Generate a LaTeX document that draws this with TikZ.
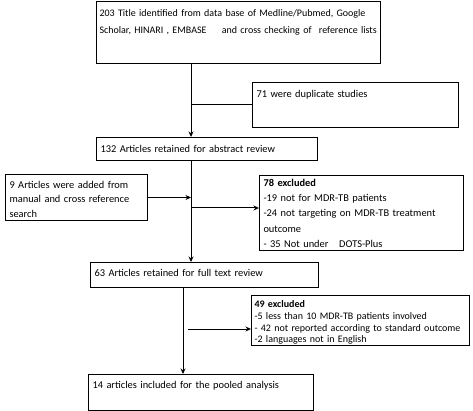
\documentclass[tikz,border=0pt]{standalone}
\usepackage{fontspec}
\setmainfont{Carlito}
\usetikzlibrary{arrows.meta}
\tikzset{
  box/.style={draw,line width=1pt,anchor=north west,inner xsep=4pt,inner ysep=0pt,align=left},
  fs/.style={font=\fontsize{10.4}{#1}\selectfont},
  fsn/.style={font=\fontsize{10}{#1}\selectfont},
  flow/.style={line width=1pt}
}
\begin{document}
\begin{tikzpicture}[>={Stealth[length=5.5pt,width=5pt]},x=1pt,y=-1pt]
	\useasboundingbox (0,0) rectangle (473,411);
	% boxes
	\node[box,fsn=17,inner xsep=3pt,text width=278pt,text height=15pt,text depth=47pt] (search) at (96,1)
		{203 Title identified from data base of Medline/Pubmed, Google\\Scholar, HINARI , EMBASE\hspace{1.2em} and cross checking of\hspace{0.4em} reference lists};
	\node[box,fs=14,text width=198pt,text height=15pt,text depth=30pt] (dup) at (252,82) {71 were duplicate studies};
	\node[box,fs=14,text width=213pt,text height=15pt,text depth=8pt] (abstract) at (96,137) {132 Articles retained for abstract review};
	\node[box,fs=14.5,text width=134pt,text height=14pt,text depth=32pt] (added) at (5,174)
		{9 Articles were added from\\manual and cross reference\\search};
	\node[box,fs=15.2,text width=196pt,text height=11pt,text depth=64pt] (excl1) at (259,175)
		{\textbf{78 excluded}\\-19 not for MDR-TB patients\\-24 not targeting on MDR-TB treatment\\outcome\\- 35 Not under\hspace{0.7em} DOTS-Plus};
	\node[box,fs=14,text width=220pt,text height=14pt,text depth=11pt] (fulltext) at (90,262) {63 Articles retained for full text review};
	\node[box,fsn=11.8,inner xsep=3pt,text width=212pt,text height=12pt,text depth=38pt] (excl2) at (251,295)
		{\textbf{49 excluded}\\-5 less than 10 MDR-TB patients involved\\- 42 not reported according to standard outcome\\-2 languages not in English};
	\node[box,fs=14,text width=217pt,text height=14pt,text depth=22pt] (pooled) at (88,374) {14 articles included for the pooled analysis};
	% connectors
	\coordinate (m1) at (191,0);
	\coordinate (m2) at (183,0);
	\coordinate (j1) at (191,208);
	\coordinate (j2) at (188,329);
	\draw[flow,->] (m1 |- search.south) -- (m1 |- abstract.north);
	\draw[flow] (m1 |- dup.west) -- (dup.west);
	\draw[flow,->] (m1 |- abstract.south) -- (m1 |- fulltext.north);
	\draw[flow,->] (added.east) -- (added.east -| m1);
	\draw[flow,->] (j1) -- (j1 -| excl1.west);
	\draw[flow,->] (m2 |- fulltext.south) -- (m2 |- pooled.north);
	\draw[flow,->] (j2) -- (j2 -| excl2.west);
\end{tikzpicture}
\end{document}
